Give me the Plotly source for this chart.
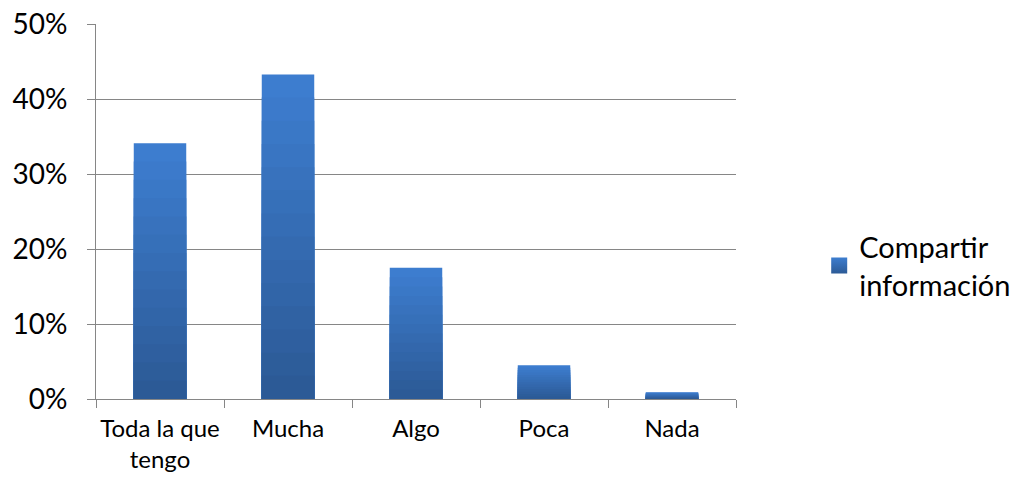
import plotly.graph_objects as go

categories = ["Toda la que<br>tengo", "Mucha", "Algo", "Poca", "Nada"]
values = [0.341, 0.433, 0.175, 0.045, 0.009]
series_name = "Compartir<br>información"
y_ticks = [0, 0.1, 0.2, 0.3, 0.4, 0.5]

N = 14
light = (0x3d, 0x7d, 0xcf)
dark = (0x2c, 0x5a, 0x96)

fig = go.Figure()
for k in range(N):
    t = k / (N - 1)
    c = tuple(round(light[i] + (dark[i] - light[i]) * t) for i in range(3))
    frac = 1 - k / N
    fig.add_trace(go.Bar(
        x=categories,
        y=[v * frac for v in values],
        marker=dict(color="rgb(%d,%d,%d)" % c, line=dict(width=0)),
        name=series_name,
        legendgroup="s",
        showlegend=False,
        hoverinfo="skip" if k else None,
        customdata=values,
        hovertemplate="%{customdata:.1%}<extra></extra>",
    ))

# legend entry (square swatch with vertical gradient like the bars)
fig.add_trace(go.Scatter(
    x=[None], y=[None], mode="markers", name=series_name, legendgroup="s",
    marker=dict(symbol="square", size=16, color="rgb(%d,%d,%d)" % light,
                gradient=dict(type="vertical", color="rgb(%d,%d,%d)" % dark),
                line=dict(width=0)),
))

fig.update_layout(
    width=1016, height=478,
    margin=dict(l=96, r=280, t=24, b=79, autoexpand=False),
    paper_bgcolor="white", plot_bgcolor="white",
    barmode="overlay", bargap=0.59,
    font=dict(family="Lato, Open Sans, sans-serif", color="#000000"),
    showlegend=True,
    legend=dict(x=1.13, y=0.355, xanchor="left", yanchor="middle",
                font=dict(size=29), bgcolor="rgba(0,0,0,0)", itemwidth=30),
)
fig.update_yaxes(
    range=[0, 0.5002], tickvals=y_ticks, tickformat=".0%",
    showgrid=True, gridcolor="#868686", gridwidth=1,
    showline=True, linecolor="#868686", linewidth=1,
    ticks="outside", ticklen=8, tickcolor="#868686",
    tickfont=dict(size=28), ticklabelstandoff=14, zeroline=False,
    ticklabeloverflow="allow", automargin=False,
)
fig.update_xaxes(
    showline=True, linecolor="#868686", linewidth=1,
    ticks="outside", ticklen=8, tickcolor="#868686", tickson="boundaries",
    tickfont=dict(size=24), ticklabelstandoff=8, tickangle=0, showgrid=False,
    ticklabeloverflow="allow", automargin=False,
)
fig.write_html(
    "out.html",
    config={"displayModeBar": False},
    post_script="document.body.style.margin='0';document.body.style.overflow='hidden';",
)
